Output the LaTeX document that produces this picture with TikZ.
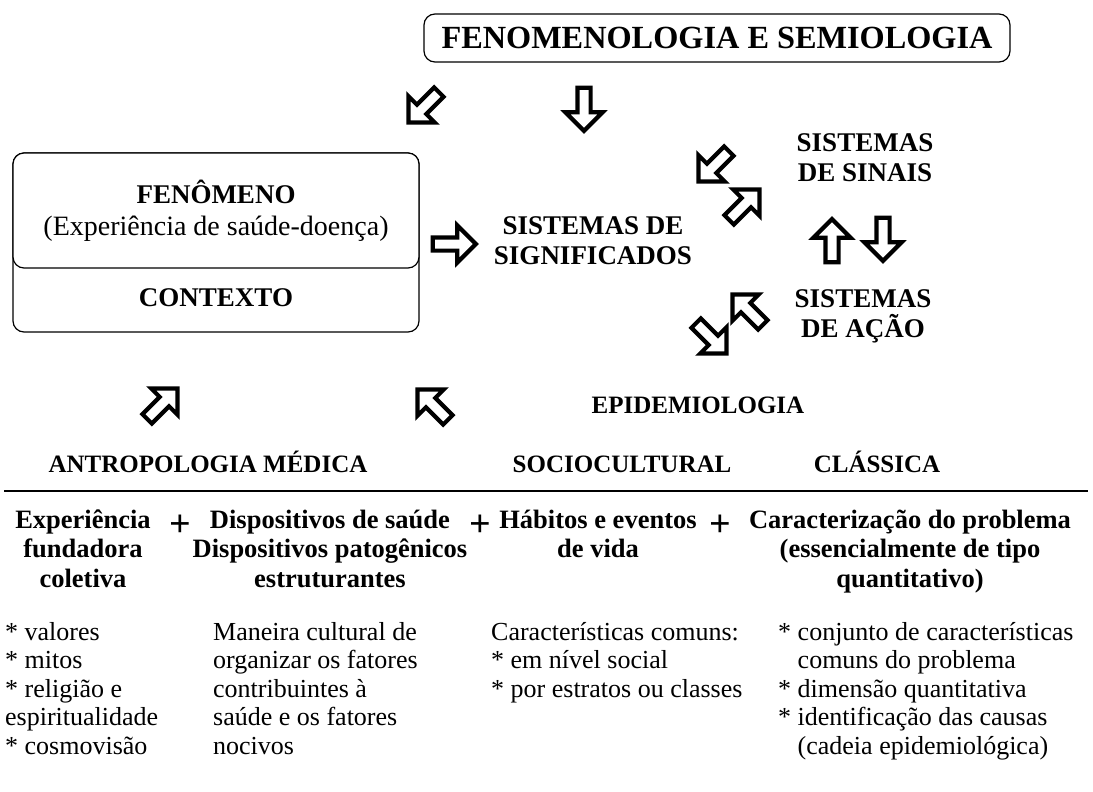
\documentclass[tikz,border=0pt]{standalone}
\usepackage{fontspec}
\setmainfont{Liberation Serif}
\usetikzlibrary{shapes.arrows}
\tikzset{
  bigarrow/.style={single arrow, draw=black, fill=white, line width=4.2pt, inner sep=4.5pt, minimum height=43pt, single arrow head extend=12pt, single arrow tip angle=90},
  roundbox/.style={draw=black, line width=1.2pt, rounded corners=11pt, fill=white},
  heading/.style={font=\fontsize{27}{30}\selectfont\bfseries, align=center, inner sep=0pt, anchor=base},
  rowhead/.style={font=\fontsize{25}{30}\selectfont\bfseries, inner sep=0pt, anchor=base},
  colhead/.style={font=\fontsize{26.5}{29.5}\selectfont\bfseries, align=center, inner sep=0pt, anchor=base},
  bodytext/.style={font=\fontsize{26}{28.6}\selectfont, align=left, inner sep=0pt, anchor=base west},
  plussign/.style={font=\fontsize{38}{38}\selectfont\bfseries, inner sep=0pt}
}

\begin{document}
\begin{tikzpicture}[x=1pt, y=-1pt]
\useasboundingbox (0,0) rectangle (1093,792);

\node[roundbox, minimum width=586pt, minimum height=48pt, font=\fontsize{32.3}{32}\selectfont\bfseries] (semio) at (717,38) {FENOMENOLOGIA E SEMIOLOGIA};

\node[roundbox, minimum width=406pt, minimum height=179pt] (contextobox) at (216,242.5) {};
\node[roundbox, minimum width=406pt, minimum height=115pt] (fenobox) at (216,210.5) {};
\node[heading] (fenomeno) at (216,203) {FENÔMENO};
\node[font=\fontsize{28}{28}\selectfont, inner sep=0pt, anchor=base] (experiencia) at (216,235) {(Experiência de saúde-doença)};
\node[heading] (contexto) at (216,306) {CONTEXTO};

\node[heading] (significados) at (593,264) {SISTEMAS DE\\SIGNIFICADOS};
\node[heading] (sinais) at (865,181) {SISTEMAS\\DE SINAIS};
\node[heading] (acao) at (863,337) {SISTEMAS\\DE AÇÃO};
\node[rowhead] (epidemio) at (698,413) {EPIDEMIOLOGIA};
\node[rowhead] (antropo) at (208,472) {ANTROPOLOGIA MÉDICA};
\node[rowhead] (socio) at (622,472) {SOCIOCULTURAL};
\node[rowhead] (classica) at (877,472) {CLÁSSICA};

\node[bigarrow, rotate=225] (arrA) at (426,105) {};
\node[bigarrow, rotate=270] (arrB) at (584,106) {};
\node[bigarrow] (arrC) at (451,244) {};
\node[bigarrow, rotate=225] (arrD) at (716,164) {};
\node[bigarrow, rotate=45] (arrE) at (742,207) {};
\node[bigarrow, rotate=90] (arrF) at (832,244) {};
\node[bigarrow, rotate=270] (arrG) at (883,236) {};
\node[bigarrow, rotate=135] (arrH) at (750,312) {};
\node[bigarrow, rotate=315] (arrI) at (709,336) {};
\node[bigarrow, rotate=45] (arrJ) at (160,406) {};
\node[bigarrow, rotate=135] (arrK) at (435,407) {};

\coordinate (ruleL) at (4,491);
\coordinate (ruleR) at (1088,491);
\draw[line width=1.3pt] (ruleL) -- (ruleR);

\node[colhead] (fundadora) at (83,587) {Experiência\\fundadora\\coletiva};
\node[colhead] (dispositivos) at (330,587) {Dispositivos de saúde\\Dispositivos patogênicos\\estruturantes};
\node[colhead] (habitos) at (598,557.5) {Hábitos e eventos\\de vida};
\node[colhead] (problema) at (910,587) {Caracterização do problema\\(essencialmente de tipo\\quantitativo)};
\node[plussign] (plusA) at (180,526) {+};
\node[plussign] (plusB) at (480,526) {+};
\node[plussign] (plusC) at (720,526) {+};

\node[bodytext] (valores) at (5,754.4) {* valores\\* mitos\\* religião e\\espiritualidade\\* cosmovisão};
\node[bodytext] (maneira) at (213,754.4) {Maneira cultural de\\organizar os fatores\\contribuintes à\\saúde e os fatores\\nocivos};
\node[bodytext] (comuns) at (491,697.2) {Características comuns:\\* em nível social\\* por estratos ou classes};
\node[bodytext] (conjunto) at (778,754.4) {* conjunto de características\\\phantom{* }comuns do problema\\* dimensão quantitativa\\* identificação das causas\\\phantom{* }(cadeia epidemiológica)};
\end{tikzpicture}
\end{document}
